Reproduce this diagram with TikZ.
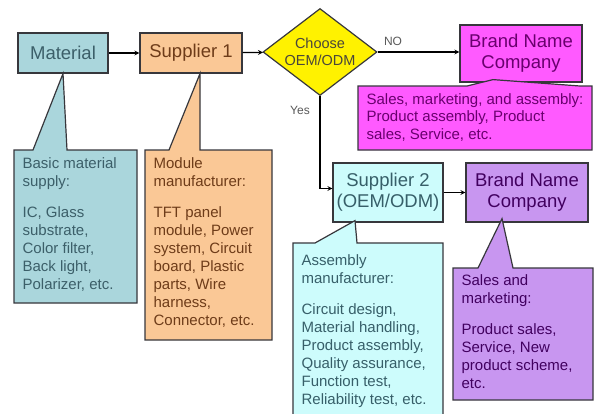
\documentclass[tikz,border=0pt]{standalone}
\usepackage{fontspec}
\setmainfont{Liberation Sans}
\usetikzlibrary{shapes.geometric, calc}
\definecolor{edge}{RGB}{55, 55, 60}
\definecolor{matfill}{RGB}{170, 214, 220}
\definecolor{mattext}{RGB}{60, 95, 105}
\definecolor{supfill}{RGB}{250, 200, 150}
\definecolor{suptext}{RGB}{110, 60, 25}
\definecolor{oemfill}{RGB}{205, 252, 252}
\definecolor{oemtext}{RGB}{55, 95, 105}
\definecolor{magfill}{RGB}{255, 90, 255}
\definecolor{magtext}{RGB}{105, 0, 110}
\definecolor{purfill}{RGB}{200, 150, 240}
\definecolor{purtext}{RGB}{65, 0, 95}

\begin{document}
\begin{tikzpicture}[x=1pt, y=-1pt, line width=1.2pt,
  box/.style={draw=edge, rectangle, inner sep=0pt, align=center, font=\fontsize{18.5}{21}\selectfont},
  notebox/.style={draw=edge, line join=miter},
  notetext/.style={anchor=north west, inner sep=0pt, align=left, font=\fontsize{15}{18}\selectfont},
  lbl/.style={inner sep=0pt, font=\fontsize{12}{14}\selectfont, text=black!65}]
  \clip (0, 0) rectangle (596, 413);
  \fill[white] (0, 0) rectangle (596, 413);

  % boxes of the chain
  \node[box, fill=matfill, text=mattext, minimum width=90pt, minimum height=40pt] (mat) at (63, 53) {Material};
  \node[box, fill=supfill, text=suptext, minimum width=102pt, minimum height=40pt] (sup1) at (191, 53) {Supplier 1};
  \node[diamond, draw=edge, fill=yellow, inner sep=0pt, minimum width=114pt, minimum height=87pt] (choose) at (320, 52) {};
  \node[inner sep=0pt, align=center, text=black!70!yellow!60!black, font=\fontsize{14.5}{17}\selectfont] (choosetext) at (choose) {Choose\\OEM/ODM};
  \node[box, fill=magfill, text=magtext, minimum width=122pt, minimum height=57pt] (brand1) at (521, 53.5) {Brand Name\\Company};
  \node[box, fill=oemfill, text=oemtext, minimum width=110pt, minimum height=59pt] (sup2) at (388, 192.5) {Supplier 2\\(OEM/ODM)};
  \node[box, fill=purfill, text=purtext, minimum width=122pt, minimum height=59pt] (brand2) at (527, 192.5) {Brand Name\\Company};

  % connectors
  \draw[->, >=stealth, black] (mat) -- (sup1);
  \draw[->, >=stealth, black] (sup1) -- (choose);
  \draw[->, >=stealth, black] (choose.east) -- (brand1.west |- choose.east);
  \draw[->, >=stealth, black] (choose.south) |- ([yshift=4pt]sup2.west);
  \draw[->, >=stealth, black] (sup2) -- (brand2);
  \node[lbl] (no) at (393, 41) {NO};
  \node[lbl] (yes) at (300, 110) {Yes};

  % callouts
  \draw[notebox, fill=matfill] (14, 150) -- (33, 150) -- (mat.south) -- (67, 150) -- (137, 150) -- (137, 303) -- (14, 303) -- cycle;
  \node[notetext, text=mattext] (matnote) at (22, 157) {Basic material\\supply:\\[13pt]IC, Glass\\substrate,\\Color filter,\\Back light,\\Polarizer, etc.};

  \draw[notebox, fill=supfill] (145, 150) -- (169, 150) -- ([xshift=9pt]sup1.south) -- (200, 150) -- (272, 150) -- (272, 340) -- (145, 340) -- cycle;
  \node[notetext, text=suptext] (sup1note) at (153, 157) {Module\\manufacturer:\\[13pt]TFT panel\\module, Power\\system, Circuit\\board, Plastic\\parts, Wire\\harness,\\Connector, etc.};

  \draw[notebox, fill=magfill] (358, 86) -- (467, 86) -- ([xshift=-28pt, yshift=3pt]brand1.south) -- (580, 86) -- (592, 86) -- (592, 150) -- (358, 150) -- cycle;
  \node[notetext, text=magtext, font=\fontsize{15}{17.5}\selectfont] (brand1note) at (366, 93) {Sales, marketing, and assembly:\\Product assembly, Product\\sales, Service, etc.};

  \draw[notebox, fill=oemfill] (293, 243) -- (315, 243) -- ([xshift=-33pt, yshift=2pt]sup2.south) -- (357, 243) -- (443, 243) -- (443, 420) -- (293, 420) -- cycle;
  \node[notetext, text=oemtext] (sup2note) at (301, 254) {Assembly\\manufacturer:\\[13pt]Circuit design,\\Material handling,\\Product assembly,\\Quality assurance,\\Function test,\\Reliability test, etc.};

  \draw[notebox, fill=purfill] (453, 268) -- (478, 268) -- ([xshift=-25pt, yshift=4pt]brand2.south) -- (513, 268) -- (593, 268) -- (593, 400) -- (453, 400) -- cycle;
  \node[notetext, text=purtext] (brand2note) at (461, 274) {Sales and\\marketing:\\[13pt]Product sales,\\Service, New\\product scheme,\\etc.};
\end{tikzpicture}
\end{document}
